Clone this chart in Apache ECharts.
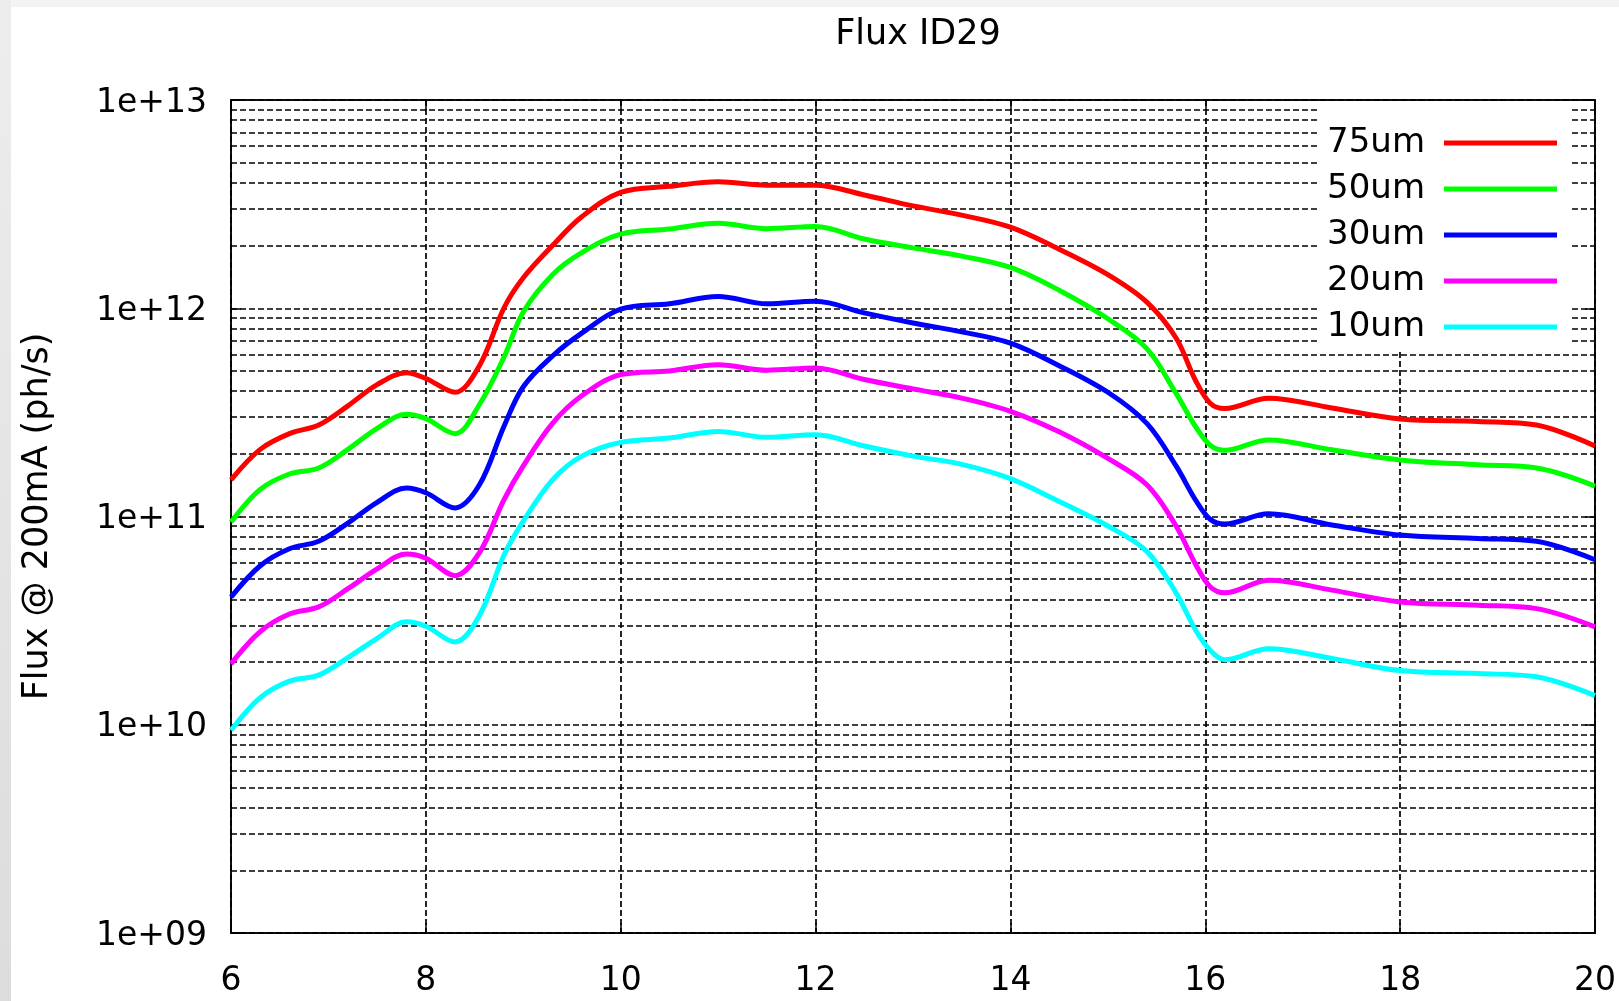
<!DOCTYPE html>
<html>
<head>
<meta charset="utf-8">
<title>Flux ID29</title>
<script src="https://cdn.jsdelivr.net/npm/echarts@6/dist/echarts.min.js"></script>
<style>
  html, body { margin: 0; padding: 0; }
  body { width: 1619px; height: 1001px; background: #f3f3f3; position: relative; overflow: hidden; }
  #strip { position: absolute; left: 0; top: 0; width: 11px; height: 1001px; background: linear-gradient(#ededed, #dcdcdc); }
  #sheet { position: absolute; left: 11px; top: 7px; right: 0; bottom: 0; background: #ffffff; }
  #chart { position: absolute; left: 0; top: 0; width: 1619px; height: 1001px; }
</style>
</head>
<body>
<div id="strip"></div>
<div id="sheet"></div>
<div id="chart"></div>
<script>
// Photon energy (keV) sample positions
const energy = [6, 6.3, 6.6, 6.9, 7.2, 7.5, 7.8, 8.0, 8.3, 8.55, 8.8, 9.0, 9.3, 9.6, 10, 10.5, 11, 11.5, 12, 12.5,
                13, 13.5, 14, 14.5, 15, 15.4, 15.7, 15.9, 16.05, 16.2, 16.65, 17.3, 18, 18.8, 19.4, 20];

// Flux at 200 mA (ph/s) for each aperture
const flux75 = [1.5e11, 2.1e11, 2.5e11, 2.75e11, 3.4e11, 4.3e11, 4.9e11, 4.6e11, 3.95e11, 5.3e11,
                1.0e12, 1.4e12, 2.0e12, 2.75e12, 3.6e12, 3.85e12, 4.05e12, 3.9e12, 3.9e12, 3.5e12,
                3.1e12, 2.8e12, 2.45e12, 1.92e12, 1.45e12, 1.07e12, 7.2e11, 4.5e11, 3.5e11, 3.3e11,
                3.7e11, 3.32e11, 2.94e11, 2.86e11, 2.75e11, 2.18e11];
const flux50 = [9.4e10, 1.35e11, 1.6e11, 1.71e11, 2.1e11, 2.65e11, 3.1e11, 2.95e11, 2.5e11, 3.45e11,
                5.8e11, 9.6e11, 1.45e12, 1.85e12, 2.27e12, 2.4e12, 2.56e12, 2.41e12, 2.47e12, 2.15e12,
                1.95e12, 1.78e12, 1.57e12, 1.22e12, 8.9e11, 6.4e11, 3.9e11, 2.7e11, 2.2e11, 2.08e11,
                2.33e11, 2.09e11, 1.87e11, 1.77e11, 1.71e11, 1.4e11];
const flux30 = [4.1e10, 5.8e10, 7.0e10, 7.6e10, 9.3e10, 1.17e11, 1.37e11, 1.3e11, 1.1e11, 1.42e11,
                2.7e11, 4.2e11, 5.9e11, 7.6e11, 9.9e11, 1.05e12, 1.14e12, 1.05e12, 1.08e12, 9.5e11,
                8.5e11, 7.7e11, 6.8e11, 5.3e11, 3.95e11, 2.8e11, 1.75e11, 1.2e11, 9.7e10, 9.2e10,
                1.03e11, 9.1e10, 8.15e10, 7.85e10, 7.6e10, 6.2e10];
const flux20 = [1.96e10, 2.8e10, 3.4e10, 3.68e10, 4.5e10, 5.6e10, 6.6e10, 6.3e10, 5.2e10, 6.7e10,
                1.2e11, 1.75e11, 2.8e11, 3.8e11, 4.8e11, 5.0e11, 5.36e11, 5.04e11, 5.17e11, 4.55e11,
                4.1e11, 3.7e11, 3.2e11, 2.55e11, 1.9e11, 1.42e11, 9.0e10, 5.9e10, 4.6e10, 4.3e10,
                4.94e10, 4.43e10, 3.89e10, 3.75e10, 3.61e10, 2.95e10];
const flux10 = [9.4e9, 1.35e10, 1.62e10, 1.73e10, 2.1e10, 2.6e10, 3.12e10, 2.97e10, 2.5e10, 3.35e10,
                6.5e10, 9.5e10, 1.5e11, 1.95e11, 2.27e11, 2.38e11, 2.56e11, 2.4e11, 2.47e11, 2.18e11,
                1.95e11, 1.78e11, 1.52e11, 1.18e11, 9.0e10, 6.8e10, 4.3e10, 2.85e10, 2.28e10, 2.05e10,
                2.32e10, 2.08e10, 1.82e10, 1.76e10, 1.7e10, 1.38e10];

const seriesNames = ['75um', '50um', '30um', '20um', '10um'];
const seriesColors = ['#ff0000', '#00ff00', '#0000ff', '#ff00ff', '#00ffff'];
const seriesValues = [flux75, flux50, flux30, flux20, flux10];

// Axis ticks
const xMin = 6, xMax = 20, xStep = 2;
const yDecades = [1e9, 1e10, 1e11, 1e12, 1e13];
const yTickLabels = ['1e+09', '1e+10', '1e+11', '1e+12', '1e+13'];
// Minor log grid: 2..9 within each decade
const minorMultipliers = [2, 3, 4, 5, 6, 7, 8, 9];

const FONT = 'DejaVu Sans';
const TICK_FS = 33;
const TEXT_FS = 35;
const dash = [6, 3];
const gridLine = { color: '#000', type: dash, width: 1.7 };

const minorGrid = [];
for (let d = 0; d < yDecades.length - 1; d++) {
  for (const m of minorMultipliers) minorGrid.push({ yAxis: yDecades[d] * m });
}

const series = seriesNames.map((name, i) => ({
  name: name,
  type: 'line',
  xAxisIndex: 0,
  yAxisIndex: 0,
  data: energy.map((e, k) => [e, seriesValues[i][k]]),
  smooth: 0.35,
  showSymbol: false,
  symbol: 'none',
  lineStyle: { color: seriesColors[i], width: 5 },
  itemStyle: { color: seriesColors[i] },
  z: 3,
  animation: false
}));

// Dashed minor grid lines sit on the first series, beneath the curves
series[0].markLine = {
  silent: true,
  symbol: ['none', 'none'],
  label: { show: false },
  lineStyle: gridLine,
  emphasis: { disabled: true },
  data: minorGrid,
  z: 1,
  animation: false
};

const chart = echarts.init(document.getElementById('chart'), null, { renderer: 'canvas' });

const axisTickStyle = { inside: true, length: 10, lineStyle: { color: '#000', width: 1.5 } };

chart.setOption({
  animation: false,
  textStyle: { fontFamily: FONT },
  title: {
    text: 'Flux ID29',
    left: 913,
    top: 12,
    textAlign: 'center',
    textStyle: { fontFamily: FONT, fontSize: TEXT_FS, fontWeight: 'normal', color: '#000' }
  },
  grid: {
    left: 231, right: 23, top: 100, bottom: 68,
    show: true, borderColor: '#000', borderWidth: 1.5, backgroundColor: 'transparent'
  },
  legend: {
    orient: 'vertical',
    right: 47,
    top: 101,
    align: 'right',
    icon: 'rect',
    itemWidth: 113,
    itemHeight: 5,
    itemGap: 12,
    padding: [25, 15, 6, 8],
    backgroundColor: '#ffffff',
    selectedMode: false,
    textStyle: { fontFamily: FONT, fontSize: 34, color: '#000', padding: [0, 14, 0, 0] },
    data: seriesNames
  },
  xAxis: [{
    type: 'value',
    position: 'bottom',
    min: xMin, max: xMax, interval: xStep,
    axisLine: { show: true, lineStyle: { color: '#000', width: 1.5 } },
    axisTick: axisTickStyle,
    axisLabel: { fontFamily: FONT, fontSize: TICK_FS, color: '#000', margin: 32 },
    splitLine: { show: true, lineStyle: gridLine }
  }, {
    type: 'value',
    position: 'top',
    min: xMin, max: xMax, interval: xStep,
    axisLine: { show: true, lineStyle: { color: '#000', width: 1.5 } },
    axisTick: axisTickStyle,
    axisLabel: { show: false },
    splitLine: { show: false }
  }],
  yAxis: [{
    type: 'log',
    logBase: 10,
    position: 'left',
    min: yDecades[0], max: yDecades[yDecades.length - 1],
    name: 'Flux @ 200mA (ph/s)',
    nameLocation: 'middle',
    nameGap: 176,
    nameTextStyle: { fontFamily: FONT, fontSize: TEXT_FS, color: '#000' },
    axisLine: { show: true, lineStyle: { color: '#000', width: 1.5 } },
    axisTick: axisTickStyle,
    axisLabel: {
      fontFamily: FONT, fontSize: TICK_FS, color: '#000', margin: 24,
      rich: { v: { fontFamily: FONT, fontSize: TICK_FS, color: '#000', padding: [6, 0, 0, 0] } },
      formatter: v => {
        const idx = yDecades.findIndex(d => Math.abs(Math.log10(d) - Math.log10(v)) < 1e-6);
        return idx >= 0 ? '{v|' + yTickLabels[idx] + '}' : '';
      }
    },
    splitLine: { show: true, lineStyle: gridLine }
  }, {
    type: 'log',
    logBase: 10,
    position: 'right',
    min: yDecades[0], max: yDecades[yDecades.length - 1],
    axisLine: { show: true, lineStyle: { color: '#000', width: 1.5 } },
    axisTick: axisTickStyle,
    axisLabel: { show: false },
    splitLine: { show: false }
  }],
  series: series
});
</script>
</body>
</html>
